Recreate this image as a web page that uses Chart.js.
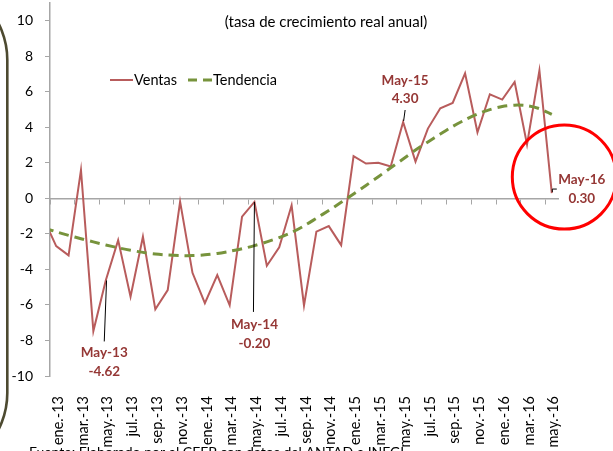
<!DOCTYPE html>
<html><head><meta charset="utf-8">
<script src="https://cdn.jsdelivr.net/npm/chart.js@4.4.1/dist/chart.umd.min.js"></script>
<style>html,body{margin:0;padding:0;background:#fff;overflow:hidden}#wrap{position:relative;width:613px;height:451px}canvas{display:block}</style>
</head><body><div id="wrap"><canvas id="c" width="613" height="451"></canvas></div>
<script>
// ---- data ----
const months = ['dic.-12',
 'ene.-13','feb.-13','mar.-13','abr.-13','may.-13','jun.-13','jul.-13','ago.-13','sep.-13','oct.-13','nov.-13','dic.-13',
 'ene.-14','feb.-14','mar.-14','abr.-14','may.-14','jun.-14','jul.-14','ago.-14','sep.-14','oct.-14','nov.-14','dic.-14',
 'ene.-15','feb.-15','mar.-15','abr.-15','may.-15','jun.-15','jul.-15','ago.-15','sep.-15','oct.-15','nov.-15','dic.-15',
 'ene.-16','feb.-16','mar.-16','abr.-16','may.-16'];
const ventas = [-1.17,
 -2.69,-3.21,1.60,-7.47,-4.62,-2.35,-5.54,-2.16,-6.25,-5.16,-0.18,-4.19,
 -5.90,-4.32,-6.02,-1.03,-0.20,-3.79,-2.76,-0.39,-6.03,-1.87,-1.56,-2.63,
 2.38,1.96,2.01,1.80,4.30,2.07,3.93,5.07,5.37,7.04,3.72,5.86,
 5.56,6.55,3.04,7.20,0.30];
const tendencia = [-1.66,
 -1.88,-2.08,-2.27,-2.45,-2.62,-2.78,-2.92,-3.04,-3.13,-3.19,-3.22,-3.22,
 -3.18,-3.10,-2.98,-2.84,-2.66,-2.45,-2.21,-1.92,-1.55,-1.12,-0.68,-0.22,
 0.25,0.73,1.22,1.72,2.22,2.72,3.18,3.62,4.05,4.42,4.75,5.00,
 5.17,5.25,5.22,5.05,4.73];
const tickLabels = ['ene.-13','mar.-13','may.-13','jul.-13','sep.-13','nov.-13','ene.-14','mar.-14','may.-14','jul.-14','sep.-14','nov.-14',
 'ene.-15','mar.-15','may.-15','jul.-15','sep.-15','nov.-15','ene.-16','mar.-16','may.-16'];
const yTicks = [-10,-8,-6,-4,-2,0,2,4,6,8,10];
const annotated = [
 {month:'may.-13', name:'May-13'},
 {month:'may.-14', name:'May-14'},
 {month:'may.-15', name:'May-15'},
 {month:'may.-16', name:'May-16'}
];
const titleText = '(tasa de crecimiento real anual)';
const sourceText = 'Fuente: Elaborado por el CEFP con datos del ANTAD e INEGI.';

// ---- styles ----
const FONT = 'Lato, "Open Sans", sans-serif';
const RED = '#b85c5c', GREEN = '#77933c', LBL = '#953735', AX = '#a6a6a6';
const annStyle = {
 'may.-13': {dx:-1.5, dy1:72, dy2:91, leader:[[0.8,0],[-1.5,61]]},
 'may.-14': {dx:0, dy1:123, dy2:142, leader:[[0,0],[-1,110]]},
 'may.-15': {dx:2, dy1:-41, dy2:-23, leader:[[0.5,-1],[2,-12]]},
 'may.-16': {dx:30, dy1:-13, dy2:6, leader:[[0.5,-1],[0.5,-4],[5,-4]]}
};

const pts = arr => arr.map((v,i)=>({x:i, y:v}));
const labelIdx = tickLabels.map(l => months.indexOf(l));

const deco = {
 id:'deco',
 beforeDraw(chart){
  const c = chart.ctx; c.save(); c.fillStyle='#fff'; c.fillRect(0,0,chart.width,chart.height); c.restore();
 },
 afterDraw(chart){
  const c = chart.ctx, xs = chart.scales.x, ys = chart.scales.y;
  c.save();
  // left rounded frame
  c.strokeStyle='#4d4a30'; c.lineWidth=2.6;
  c.beginPath();
  const R=80, rx=7.3, top=-20, bot=473;
  c.moveTo(-100, top); c.lineTo(rx-R, top); c.arcTo(rx, top, rx, top+R, R);
  c.lineTo(rx, bot-R); c.arcTo(rx, bot, rx-R, bot, R); c.lineTo(-100, bot);
  c.stroke();
  // title
  c.fillStyle='#000'; c.font='15px '+FONT; c.textAlign='center'; c.textBaseline='middle';
  c.fillText(titleText, 326, 22);
  // legend
  const ds = chart.data.datasets;
  c.font='14.5px '+FONT; c.textAlign='left';
  c.strokeStyle=ds[0].borderColor; c.lineWidth=2; c.setLineDash([]);
  c.beginPath(); c.moveTo(110,80); c.lineTo(133,80); c.stroke();
  c.fillText(ds[0].label, 134, 80);
  c.strokeStyle=ds[1].borderColor; c.lineWidth=3; c.setLineDash([9,6]);
  c.beginPath(); c.moveTo(188,80); c.lineTo(212,80); c.stroke();
  c.setLineDash([]);
  c.fillText(ds[1].label, 213, 80);
  // annotations
  annotated.forEach(a => {
   const i = months.indexOf(a.month), st = annStyle[a.month];
   const px = xs.getPixelForValue(i), py = ys.getPixelForValue(ventas[i]);
   c.strokeStyle='#000'; c.lineWidth=1;
   c.beginPath();
   st.leader.forEach((p,k)=>{ if(k===0) c.moveTo(px+p[0],py+p[1]); else c.lineTo(px+p[0],py+p[1]); });
   c.stroke();
   c.fillStyle=LBL; c.font='bold 13.5px '+FONT; c.textAlign='center'; c.textBaseline='middle';
   c.fillText(a.name, px+st.dx, py+st.dy1);
   c.fillText(ventas[i].toFixed(2), px+st.dx, py+st.dy2);
  });
  // red circle around last point
  const li = months.length-1;
  const cx = xs.getPixelForValue(li)+12.5, cy = ys.getPixelForValue(ventas[li])-16;
  c.strokeStyle='#ff0000'; c.lineWidth=3;
  c.beginPath(); c.arc(cx, cy, 52, 0, Math.PI*2); c.stroke();
  // source
  c.fillStyle='#000'; c.font='14px '+FONT; c.textAlign='left'; c.textBaseline='top';
  c.fillText(sourceText, 29, 445);
  c.restore();
 }
};

new Chart(document.getElementById('c'), {
 type:'line',
 data:{datasets:[
  {label:'Ventas', data:pts(ventas), borderColor:RED, backgroundColor:RED, borderWidth:2, pointRadius:0, tension:0, clip:0, order:1},
  {label:'Tendencia', data:pts(tendencia), borderColor:GREEN, backgroundColor:GREEN, borderWidth:3, borderDash:[10,6], pointRadius:0, tension:0.3, clip:0, order:0}
 ]},
 options:{
  responsive:false, animation:false, devicePixelRatio:1,
  layout:{padding:{left:0,right:55,top:3,bottom:0}},
  plugins:{legend:{display:false}, tooltip:{enabled:false}, title:{display:false}},
  scales:{
   x:{type:'linear', position:'bottom', min:0.5, max:months.length-0.5,
      afterBuildTicks:s=>{ s.ticks = labelIdx.map(v=>({value:v})); },
      ticks:{autoSkip:false, minRotation:90, maxRotation:90, padding:12, labelOffset:2, color:'#000', font:{family:FONT,size:14.5},
             callback:v=>months[v]},
      grid:{display:false}, border:{display:false},
      afterFit:s=>{ s.height = 75; s.paddingLeft = 0; s.paddingRight = 0; }},
   x2:{type:'linear', axis:'x', position:{y:0}, min:0.5, max:months.length-0.5,
      afterBuildTicks:s=>{ s.ticks = labelIdx.map(v=>({value:v-0.5})); },
      ticks:{display:false},
      grid:{drawOnChartArea:false, tickLength:5, color:AX, lineWidth:1},
      border:{display:true, color:AX, width:1.5}},
   y:{type:'linear', min:-10, max:11,
      afterBuildTicks:s=>{ s.ticks = yTicks.map(v=>({value:v})); },
      ticks:{padding:12, color:'#000', font:{family:FONT,size:14}},
      grid:{drawOnChartArea:false, tickLength:5, color:AX},
      border:{display:true, color:AX, width:1.5},
      afterFit:s=>{ s.width = 50; s.paddingTop = 0; s.paddingBottom = 0; }}
  }
 },
 plugins:[deco]
});
</script></body></html>
